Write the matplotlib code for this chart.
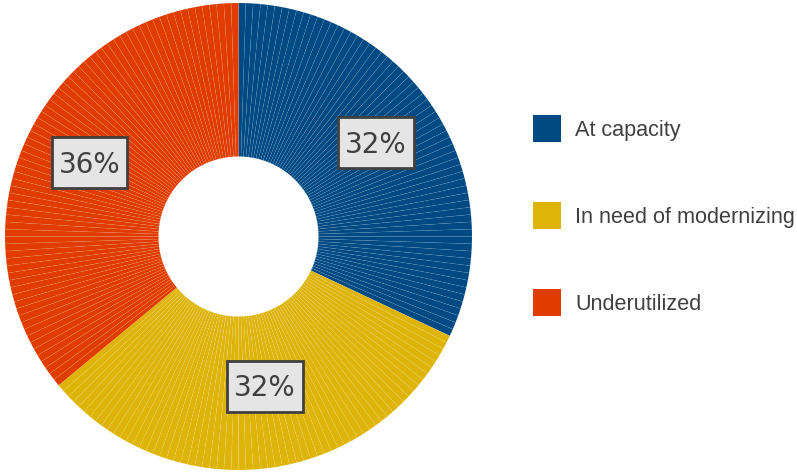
import numpy as np
import matplotlib
matplotlib.use('Agg')
import matplotlib.pyplot as plt
from matplotlib.patches import Wedge, Rectangle

categories = ['At capacity', 'In need of modernizing', 'Underutilized']
shares = [32, 32, 36]          # percent
colors = ['#004a84', '#deb408', '#e03c00']
step = 0.5                     # each ring segment is half a percent

W, H = 797, 472
fig = plt.figure(figsize=(W / 100, H / 100), dpi=100)


def fx(px):
    return px / W


def fy(py):
    # pixel row from the top -> figure fraction
    return (H - py) / H


# pie centre and radius in pixels
cx, cy, R = 238.5, 236.5, 233.5
ax = fig.add_axes([fx(cx - R), fy(cy + R), 2 * R / W, 2 * R / H])
ax.set_xlim(-1, 1)
ax.set_ylim(-1, 1)
ax.axis('off')

inner = 80 / R
# nudges (px) for the value boxes, relative to the middle of the ring
nudge = [(5, -10), (7, -6), (-7, -7)]

start = 0.0
labels = []
for name, share, col, (ox, oy) in zip(categories, shares, colors, nudge):
    n = int(round(share / step))
    for i in range(n):
        a0 = start + i * step
        a1 = a0 + step
        # clockwise from 12 o'clock
        t1 = 90 - a0 * 3.6
        t2 = 90 - a1 * 3.6
        ax.add_patch(Wedge((0, 0), 1, t2, t1, width=1 - inner,
                           facecolor=col, edgecolor=(1, 1, 1, 0.09), lw=0.45))
    mid = np.deg2rad(90 - (start + share / 2) * 3.6)
    rl = (1 + inner) / 2 * R
    lx = cx + rl * np.cos(mid) + ox
    ly = cy - rl * np.sin(mid) + oy
    t = fig.text(fx(lx), fy(ly + 10.3), '%d%%' % share, ha='center', va='baseline',
                 fontsize=20, color='#404040', family='DejaVu Sans', zorder=5)
    labels.append((t, lx, ly))
    start += share

fig.canvas.draw()
r = fig.canvas.get_renderer()
for t, lx, ly in labels:
    ext = t.get_window_extent(r)
    bw = ext.width + 14
    bh = 51
    fig.patches.append(Rectangle((fx(lx - bw / 2), fy(ly + bh / 2)), bw / W, bh / H,
                                 transform=fig.transFigure, facecolor='#e5e5e5',
                                 edgecolor='#404040', lw=2, zorder=4))

# legend
ys = [128.5, 215, 302.5]
for name, col, y in zip(categories, colors, ys):
    fig.patches.append(Rectangle((fx(533), fy(y + 13.5)), 28 / W, 27 / H,
                                 transform=fig.transFigure, facecolor=col,
                                 edgecolor='none'))
    fig.text(fx(575), fy(y + 7.5), name, ha='left', va='baseline',
             fontsize=15.6, color='#404040', family='Liberation Sans')

fig.savefig('out.png', dpi=100)
